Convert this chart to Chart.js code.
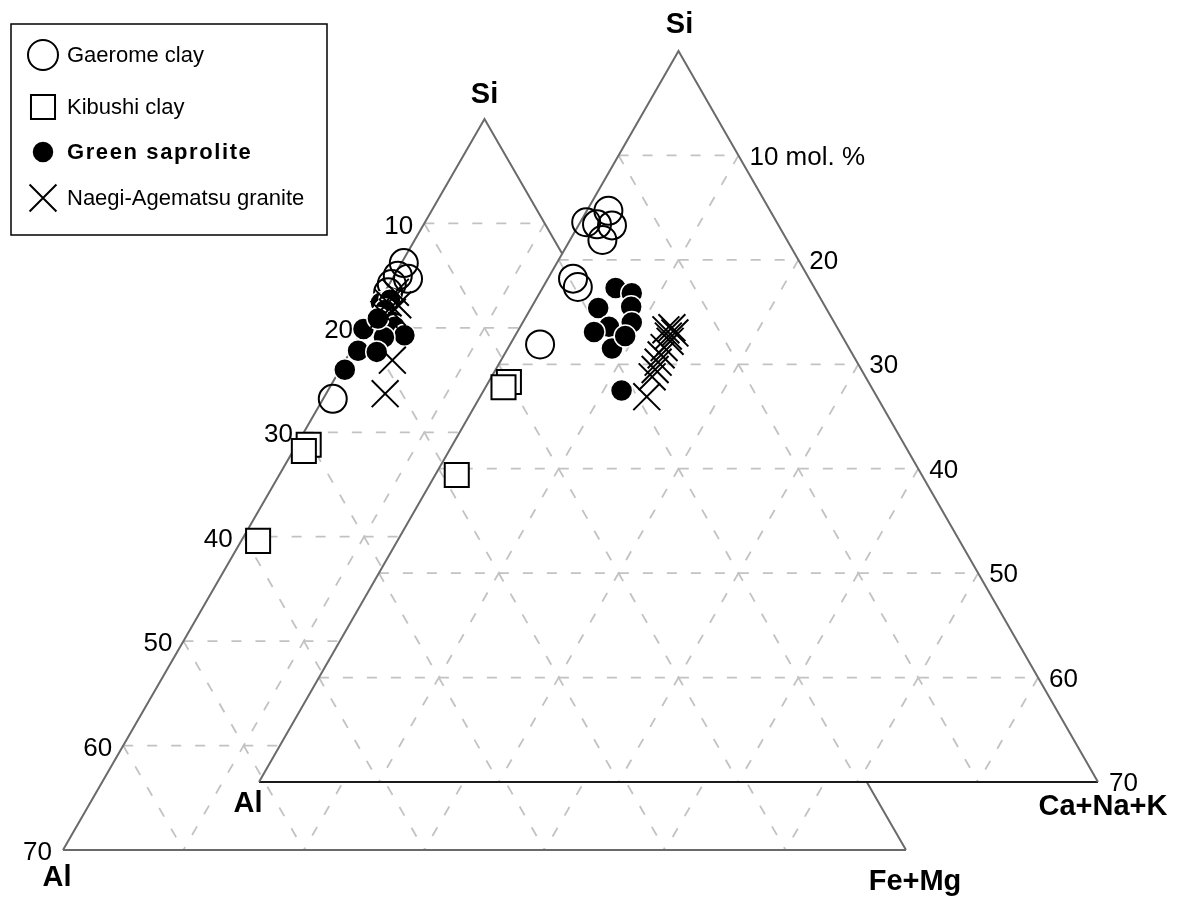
<!DOCTYPE html>
<html>
<head>
<meta charset="utf-8">
<title>Ternary diagrams</title>
<script src="https://cdn.jsdelivr.net/npm/chart.js@4.4.1/dist/chart.umd.min.js"></script>
<style>
  html, body { margin: 0; padding: 0; background: #fff; }
  canvas { display: block; }
</style>
</head>
<body>
<canvas id="chart" width="1187" height="901"></canvas>
<script>
// edge ticks, mol. %
const tickValues = [10, 20, 30, 40, 50, 60, 70]

// back diagram: Si - Al - (Fe+Mg); values are Al and Fe+Mg mol. %
const gaeromeFmAl = [13.6, 14.7, 14.0, 15.6, 16.3, 26.0]
const gaeromeFmFeMg = [0.2, 0.3, 1.3, 0.2, 0.3, 0.8]
const kibushiFmAl = [30.2, 30.9, 39.0]
const kibushiFmFeMg = [1.0, 0.9, 1.4]
const saproliteFmAl = [17.4, 16.5, 17.4, 17.4, 17.4, 17.0, 20.1, 18.8, 21.6, 20.1, 23.6, 18.4]
const saproliteFmFeMg = [0.2, 0.8, 0.9, 2.0, 2.5, 3.7, 0.0, 2.1, 0.6, 2.2, 0.4, 0.7]
const graniteFmAl = [15.7, 16.8, 16.1, 17.7, 16.9, 19.2, 21.4]
const graniteFmFeMg = [0.9, 0.8, 1.7, 1.0, 1.6, 3.9, 4.9]

// front diagram: Si - Al - (Ca+Na+K); values are Al and Ca+Na+K mol. %
const gaeromeCnkAl = [15.9, 15.1, 13.5, 13.9, 15.4, 19.7, 19.7, 25.6]
const gaeromeCnkCnk = [0.5, 1.5, 1.8, 2.8, 2.7, 2.1, 2.9, 2.5]
const kibushiCnkAl = [30.0, 30.7, 38.8]
const kibushiCnkCnk = [1.7, 1.5, 1.8]
const saproliteCnkAl = [16.6, 15.5, 19.0, 16.2, 19.0, 16.9, 20.5, 19.8, 21.0, 18.1]
const saproliteCnkCnk = [6.1, 7.7, 5.6, 8.3, 7.4, 9.1, 6.4, 8.7, 11.5, 9.2]
const graniteCnkAl = [13.8, 13.8, 14.5, 14.6, 15.4, 16.0, 16.6, 17.2, 17.8, 14.4, 19.2]
const graniteCnkCnk = [12.7, 13.2, 12.8, 13.2, 13.0, 13.1, 13.2, 13.3, 13.4, 12.3, 13.9]

// layout of the two triangles (axis units = canvas px)
const span = 70
const backTri = { apex: [484.5, 119], left: [63, 850], right: [906, 850] }
const frontTri = { apex: [678.5, 51], left: [259, 782], right: [1098, 782] }

const GRID = '#c2c2c2'
const EDGE = '#6a6a6a'
const FONT = '"Liberation Sans", Arial, Helvetica, sans-serif'

// a = component of the left corner (Al), b = component of the right corner
const tern = (tri, a, b) => {
  const fa = a / span, fb = b / span
  return {
    x: tri.apex[0] + fa * (tri.left[0] - tri.apex[0]) + fb * (tri.right[0] - tri.apex[0]),
    y: tri.apex[1] + fa * (tri.left[1] - tri.apex[1]) + fb * (tri.right[1] - tri.apex[1])
  }
}

const lineSet = (data, order, extra = {}) => ({
  data,
  order,
  showLine: true,
  pointRadius: 0,
  borderWidth: 2,
  borderColor: EDGE,
  fill: false,
  tension: 0,
  ...extra
})

const gridSets = (tri, order) => {
  const sets = []
  const dash = { borderColor: GRID, borderWidth: 1.8, borderDash: [10, 14] }
  tickValues.slice(0, -1).forEach(v => {
    sets.push(lineSet([tern(tri, v, 0), tern(tri, 0, v)], order, dash))
    sets.push(lineSet([tern(tri, v, 0), tern(tri, v, span - v)], order, dash))
    sets.push(lineSet([tern(tri, 0, v), tern(tri, span - v, v)], order, dash))
  })
  return sets
}

const edgeSets = (tri, order, bottomColor) => [
  lineSet([tern(tri, span, 0), tern(tri, 0, 0), tern(tri, 0, span)], order, { borderJoinStyle: 'miter' }),
  lineSet([tern(tri, span, 0), tern(tri, 0, span)], order, { borderColor: bottomColor })
]

const toPoints = (tri, aVals, bVals) => aVals.map((a, i) => tern(tri, a, bVals[i]))

const styles = {
  gaerome: { pointStyle: 'circle', pointRadius: 14, borderWidth: 2, borderColor: '#000', backgroundColor: 'rgba(0,0,0,0)' },
  kibushi: { pointStyle: 'rect', pointRadius: 17, borderWidth: 2, borderColor: '#000', backgroundColor: '#fff' },
  saprolite: { pointStyle: 'circle', pointRadius: 11, borderWidth: 1.5, borderColor: '#fff', backgroundColor: '#000' },
  granite: { pointStyle: 'crossRot', pointRadius: 19, borderWidth: 2, borderColor: '#000', backgroundColor: '#000' }
}

const pointSet = (label, data, style, order) => ({
  label, data, order, showLine: false, ...styles[style]
})

const datasets = [
  ...gridSets(backTri, 100),
  ...edgeSets(backTri, 90, EDGE),
  pointSet('Gaerome clay', toPoints(backTri, gaeromeFmAl, gaeromeFmFeMg), 'gaerome', 83),
  pointSet('Kibushi clay', toPoints(backTri, kibushiFmAl, kibushiFmFeMg), 'kibushi', 82),
  pointSet('Green saprolite', toPoints(backTri, saproliteFmAl, saproliteFmFeMg), 'saprolite', 81),
  pointSet('Naegi-Agematsu granite', toPoints(backTri, graniteFmAl, graniteFmFeMg), 'granite', 80),
  // white body of the front triangle hides the back one
  lineSet([tern(frontTri, 0, 0), tern(frontTri, span, 0), tern(frontTri, 0, span), tern(frontTri, 0, 0)], 70,
    { borderWidth: 0, borderColor: 'rgba(0,0,0,0)', fill: 'shape', backgroundColor: '#fff' }),
  ...gridSets(frontTri, 60),
  ...edgeSets(frontTri, 50, '#1a1a1a'),
  pointSet('Gaerome clay', toPoints(frontTri, gaeromeCnkAl, gaeromeCnkCnk), 'gaerome', 43),
  pointSet('Kibushi clay', toPoints(frontTri, kibushiCnkAl, kibushiCnkCnk), 'kibushi', 42),
  pointSet('Green saprolite', toPoints(frontTri, saproliteCnkAl, saproliteCnkCnk), 'saprolite', 41),
  pointSet('Naegi-Agematsu granite', toPoints(frontTri, graniteCnkAl, graniteCnkCnk), 'granite', 40)
]

const legendItems = [
  { text: 'Gaerome clay', style: 'gaerome', bold: false },
  { text: 'Kibushi clay', style: 'kibushi', bold: false },
  { text: 'Green saprolite', style: 'saprolite', bold: true },
  { text: 'Naegi-Agematsu granite', style: 'granite', bold: false }
]

const overlay = {
  id: 'overlay',
  afterDraw(chart) {
    const { ctx, scales: { x, y } } = chart
    const px = p => [x.getPixelForValue(p.x), y.getPixelForValue(p.y)]
    ctx.save()
    ctx.fillStyle = '#000'
    ctx.textBaseline = 'middle'

    // edge tick labels
    ctx.font = '26px ' + FONT
    ctx.textAlign = 'right'
    tickValues.forEach(v => {
      const [tx, ty] = px(tern(backTri, v, 0))
      ctx.fillText(String(v), tx - 11, ty + 3)
    })
    ctx.textAlign = 'left'
    tickValues.forEach((v, i) => {
      const [tx, ty] = px(tern(frontTri, 0, v))
      ctx.fillText(i === 0 ? v + ' mol. %' : String(v), tx + 11, ty + 2)
    })

    // corner names
    ctx.font = 'bold 29px ' + FONT
    ctx.textAlign = 'center'
    const corner = (tri, a, b, label, dx, dy) => {
      const [cx, cy] = px(tern(tri, a, b))
      ctx.fillText(label, cx + dx, cy + dy)
    }
    corner(backTri, 0, 0, 'Si', 0, -24)
    corner(frontTri, 0, 0, 'Si', 1, -26)
    corner(backTri, span, 0, 'Al', -6, 28)
    corner(frontTri, span, 0, 'Al', -11, 22)
    corner(backTri, 0, span, 'Fe+Mg', 9, 32)
    corner(frontTri, 0, span, 'Ca+Na+K', 5, 25)

    // legend box
    ctx.lineWidth = 1.5
    ctx.strokeStyle = '#000'
    ctx.strokeRect(11, 24, 316, 211)
    const rows = [55, 107, 152, 198]
    legendItems.forEach((item, i) => {
      const st = styles[item.style]
      ctx.save()
      ctx.fillStyle = st.backgroundColor
      ctx.strokeStyle = st.borderColor
      ctx.lineWidth = st.borderWidth
      Chart.helpers.drawPoint(ctx, {
        pointStyle: st.pointStyle,
        radius: item.style === 'gaerome' ? 15 : st.pointRadius,
        rotation: 0,
        borderWidth: st.borderWidth
      }, 43, rows[i])
      ctx.restore()
      ctx.fillStyle = '#000'
      ctx.textAlign = 'left'
      ctx.font = (item.bold ? 'bold ' : '') + '22px ' + FONT
      if ('letterSpacing' in ctx) ctx.letterSpacing = item.bold ? '1.6px' : '0px'
      ctx.fillText(item.text, 67, rows[i] + 1)
    })
    if ('letterSpacing' in ctx) ctx.letterSpacing = '0px'
    ctx.restore()
  }
}

new Chart(document.getElementById('chart'), {
  type: 'scatter',
  data: { datasets },
  options: {
    responsive: false,
    animation: false,
    events: [],
    devicePixelRatio: 1,
    layout: { padding: 0, autoPadding: false },
    scales: {
      x: { type: 'linear', min: 0, max: 1187, display: false },
      y: { type: 'linear', min: 0, max: 901, reverse: true, display: false }
    },
    plugins: {
      legend: { display: false },
      tooltip: { enabled: false }
    }
  },
  plugins: [overlay]
})
</script>
</body>
</html>
